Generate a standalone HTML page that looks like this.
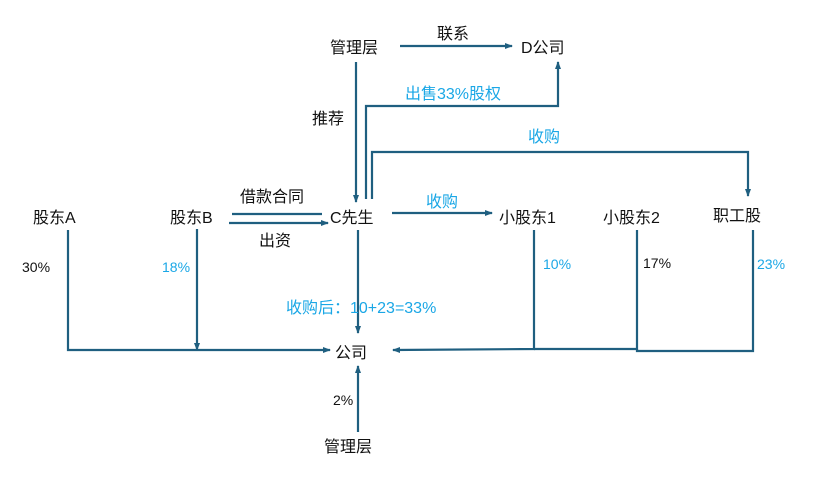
<!DOCTYPE html>
<html><head><meta charset="utf-8"><style>
html,body{margin:0;padding:0;background:#fff;}
svg{display:block;}
text{font-family:"Liberation Sans","Noto Sans CJK SC",sans-serif;font-size:16px;fill:#111;}
.b{fill:#1aa7e6;}
.s{font-size:14px;}
</style></head><body>
<svg width="822" height="483" viewBox="0 0 822 483" xmlns="http://www.w3.org/2000/svg">
<defs>
<marker id="a" markerWidth="8" markerHeight="8" refX="7" refY="4" orient="auto" markerUnits="userSpaceOnUse">
<path d="M0,1 L8,4 L0,7 Z" fill="#1f5f80"/></marker>
</defs>
<g stroke="#1f5f80" stroke-width="2.2" fill="none">
<line x1="400" y1="46" x2="512" y2="46" marker-end="url(#a)"/>
<line x1="356" y1="62" x2="356" y2="202" marker-end="url(#a)"/>
<polyline points="366,199 366,106 558,106 558,62" marker-end="url(#a)"/>
<polyline points="372,199 372,152 748,152 748,196" marker-end="url(#a)"/>
<line x1="232" y1="214" x2="322" y2="214"/>
<line x1="229" y1="223" x2="328" y2="223" marker-end="url(#a)"/>
<line x1="392" y1="213" x2="492" y2="213" marker-end="url(#a)"/>
<polyline points="68,230 68,350 330,350" marker-end="url(#a)"/>
<line x1="197" y1="229" x2="197" y2="350" marker-end="url(#a)"/>
<line x1="358" y1="230" x2="358" y2="333" marker-end="url(#a)"/>
<line x1="358" y1="432" x2="358" y2="366" marker-end="url(#a)"/>
<polyline points="534,230 534,349 393,350" marker-end="url(#a)"/>
<polyline points="534,349 637,349 637,230"/>
<polyline points="637,349 637,351 753,351 753,230"/>
</g>
<text x="330" y="53">管理层</text>
<text x="437" y="39">联系</text>
<text x="521" y="53">D公司</text>
<text x="405" y="99" class="b">出售33%股权</text>
<text x="312" y="124">推荐</text>
<text x="528" y="142" class="b">收购</text>
<text x="240" y="202">借款合同</text>
<text x="259" y="246">出资</text>
<text x="426" y="207" class="b">收购</text>
<text x="33" y="223">股东A</text>
<text x="170" y="223">股东B</text>
<text x="330" y="223">C先生</text>
<text x="499" y="223">小股东1</text>
<text x="603" y="223">小股东2</text>
<text x="713" y="221">职工股</text>
<text x="22" y="272" class="s">30%</text>
<text x="162" y="272" class="b s">18%</text>
<text x="543" y="269" class="b s">10%</text>
<text x="643" y="268" class="s">17%</text>
<text x="757" y="269" class="b s">23%</text>
<text x="286" y="313" class="b" style="font-size:16px">收购后：10+23=33%</text>
<text x="335" y="358">公司</text>
<text x="333" y="405" class="s">2%</text>
<text x="324" y="452">管理层</text>
</svg>
</body></html>
